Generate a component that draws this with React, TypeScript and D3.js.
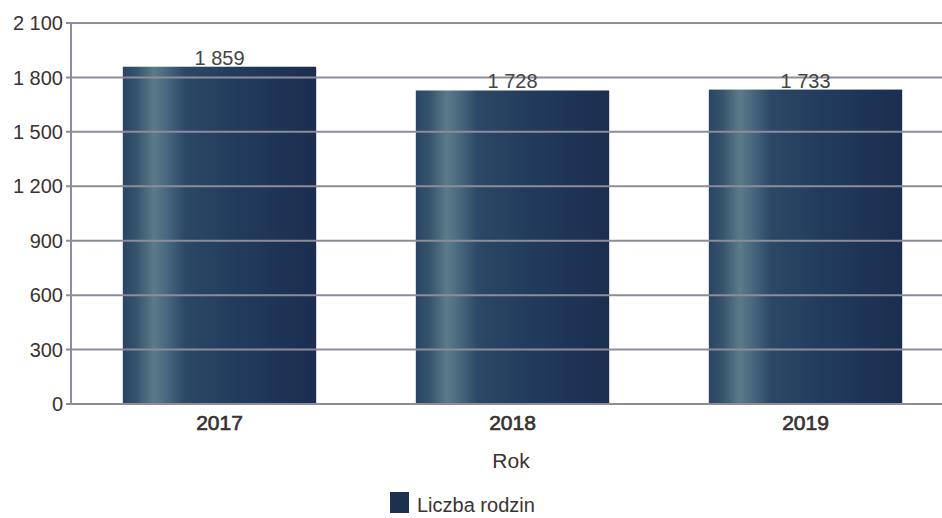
import React from "react";
import * as d3 from "d3";

const categories = ["2017", "2018", "2019"];
const values = [1859, 1728, 1733];
const yTicks = [0, 300, 600, 900, 1200, 1500, 1800, 2100];
const seriesName = "Liczba rodzin";
const xAxisTitle = "Rok";

const W = 942;
const H = 518;
const margin = { left: 71, right: -10, top: 23, bottom: 114 };

const fmt = (v: number) => {
  const s = String(v);
  return s.length > 3 ? s.slice(0, s.length - 3) + "\u00a0" + s.slice(-3) : s;
};

export default function App() {
  const x = d3
    .scaleBand()
    .domain(categories)
    .range([margin.left + 2, W - margin.right])
    .paddingInner(0.34)
    .paddingOuter(0.17);
  const y = d3.scaleLinear().domain([0, 2100]).range([H - margin.bottom, margin.top]);
  const font = "'Liberation Sans', Arial, sans-serif";
  const textCol = "#3a3232";
  const gridCol = "#8e8c98";

  return (
    <svg
      width={W}
      height={H}
      style={{ position: "absolute", left: 0, top: 0, background: "#fff" }}
      fontFamily={font}
    >
      <defs>
        <linearGradient id="barGrad" x1="0" x2="1" y1="0" y2="0">
          <stop offset="0" stopColor="#2a4565" />
          <stop offset="0.07" stopColor="#35536c" />
          <stop offset="0.16" stopColor="#5b7b88" />
          <stop offset="0.22" stopColor="#4a6a80" />
          <stop offset="0.32" stopColor="#2c4866" />
          <stop offset="0.55" stopColor="#233d5e" />
          <stop offset="0.8" stopColor="#1e3456" />
          <stop offset="1" stopColor="#1b2e50" />
        </linearGradient>
      </defs>
      {categories.map((c, i) => (
        <rect
          key={c}
          x={x(c)}
          y={y(values[i])}
          width={x.bandwidth()}
          height={y(0) - y(values[i])}
          fill="url(#barGrad)"
        />
      ))}
      {yTicks.map((t) => (
        <g key={t}>
          <line
            x1={margin.left - 5}
            x2={W}
            y1={y(t)}
            y2={y(t)}
            stroke={gridCol}
            strokeWidth={2}
          />
          <text
            x={margin.left - 8}
            y={y(t)}
            dy="0.36em"
            textAnchor="end"
            fontSize={20}
            fill={textCol}
          >
            {fmt(t)}
          </text>
        </g>
      ))}
      <line
        x1={margin.left}
        x2={margin.left}
        y1={y(2100)}
        y2={y(0)}
        stroke={gridCol}
        strokeWidth={2}
      />
      {categories.map((c, i) => (
        <g key={"l" + c}>
          <text
            x={(x(c) as number) + x.bandwidth() / 2}
            y={y(values[i]) - 2}
            textAnchor="middle"
            fontSize={20}
            fill="#444"
          >
            {fmt(values[i])}
          </text>
          <text
            x={(x(c) as number) + x.bandwidth() / 2}
            y={y(0) + 26}
            textAnchor="middle"
            fontSize={21}
            stroke={textCol}
            strokeWidth={0.7}
            fill={textCol}
          >
            {c}
          </text>
        </g>
      ))}
      <text x={511} y={468} textAnchor="middle" fontSize={21} fill={textCol}>
        {xAxisTitle}
      </text>
      <rect x={390} y={492} width={19} height={21} fill="#1c3050" />
      <text x={417} y={512} fontSize={20} fill={textCol}>
        {seriesName}
      </text>
    </svg>
  );
}
